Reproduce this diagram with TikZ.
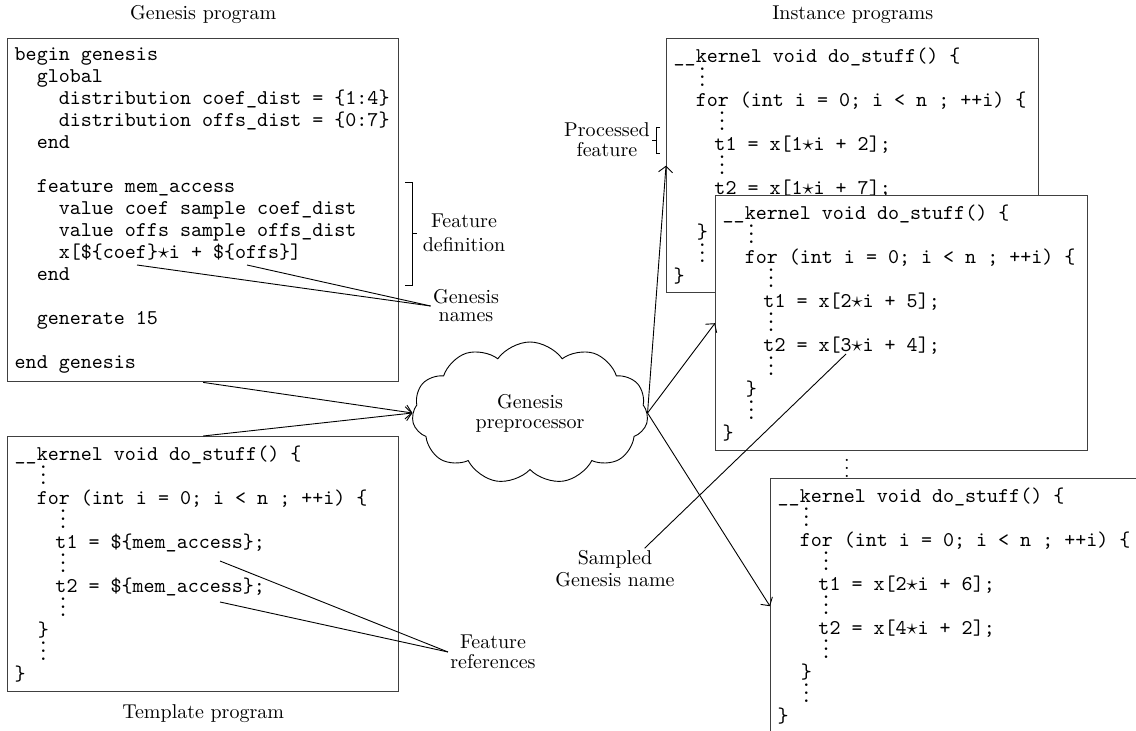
\documentclass[tikz,border=0pt]{standalone}
\usepackage{amsmath}
\usepackage{amssymb}
\usetikzlibrary{positioning,shapes.symbols,arrows.meta}

\newcommand{\codefont}{\fontsize{10.5}{11}\selectfont\ttfamily}
\newcommand{\fixsp}{\spaceskip=\fontcharwd\font`x\relax\xspaceskip=\spaceskip}
\newcommand{\ind}[1]{\hspace*{#1\fontcharwd\font`x}}
\newcommand{\vd}[1]{\ind{#1}\smash{\raisebox{-1pt}{$\vdots$}}}
\newcommand{\kernelcode}[2]{%
  \fixsp\_\_kernel void do\_stuff() \{\\
  \vd{2.1}\\
  \ind{2}for (int i = 0; i < n ; ++i) \{\\
  \vd{3.9}\\
  \ind{3.7}t1 = #1;\\
  \vd{3.9}\\
  \ind{3.7}t2 = #2;\\
  \vd{3.9}\\
  \ind{2.1}\}\\
  \vd{2.1}\\
  \}}

\begin{document}
\begin{tikzpicture}[
      x=0.5pt, y=-0.5pt,
      code/.style={
        draw=black!75, line width=0.7pt, fill=white, anchor=north west,
        align=left, inner xsep=3.5pt, inner ysep=0pt, font=\codefont
      },
      lbl/.style={align=center, inner sep=1pt, font=\fontsize{10}{10}\selectfont},
      line width=0.45pt, >={Straight Barb[length=3pt,width=7pt]}
      ]

  \path[use as bounding box, clip] (0,0) rectangle (1136,731);

  % code boxes
  \node[code, text width=188.5pt, minimum height=171.5pt] (genesis) at (7,38) {%
    \fixsp begin genesis\\
    \ind{2}global\\
    \ind{4}distribution coef\_dist = \{1:4\}\\
    \ind{4}distribution offs\_dist = \{0:7\}\\
    \ind{2}end\\
    \mbox{}\\
    \ind{2}feature mem\_access\\
    \ind{4}value coef sample coef\_dist\\
    \ind{4}value offs sample offs\_dist\\
    \ind{4}x[\$\{coef\}$\star$i + \$\{offs\}]\\
    \ind{2}end\\
    \mbox{}\\
    \ind{2}generate 15\\
    \mbox{}\\
    end genesis};
  \node[code, text width=188.5pt, minimum height=127.5pt] (template) at (7,436)
    {\kernelcode{\$\{mem\_access\}}{\$\{mem\_access\}}};
  \node[code, text width=179pt, minimum height=127pt] (inst1) at (666,38)
    {\kernelcode{x[1$\star$i + 2]}{x[1$\star$i + 7]}};
  \node[code, text width=179pt, minimum height=127.5pt] (inst2) at (715,195)
    {\kernelcode{x[2$\star$i + 5]}{x[3$\star$i + 4]}};
  \node[code, text width=179pt, minimum height=127.5pt] (inst3) at (770,478)
    {\kernelcode{x[2$\star$i + 6]}{x[4$\star$i + 2]}};
  \node[inner sep=0pt] (moredots) at (847,462) {$\vdots$};

  % titles
  \node[lbl, above=6pt of genesis] (gtitle) {Genesis program};
  \node[lbl, below=5pt of template] (ttitle) {Template program};
  \node[lbl, above=6pt of inst1] (ititle) {Instance programs};

  \node[cloud, draw, cloud puffs=11, cloud puff arc=110, aspect=1.7,
        minimum width=118pt, minimum height=71pt, inner sep=0pt,
        align=center, font=\fontsize{10}{10}\selectfont] (prep) at (530,413)
        {Genesis\\preprocessor};

  % annotations
  \node[lbl, font=\fontsize{10}{12}\selectfont] (fdef) at (464,233) {Feature\\definition};
  \node[lbl, font=\fontsize{10}{9}\selectfont] (gnames) at (466,306) {Genesis\\names};
  \node[lbl] (frefs) at (493,652) {Feature\\references};
  \node[lbl, font=\fontsize{10}{11}\selectfont] (samp) at (615,569) {Sampled\\Genesis name};
  \node[lbl] (proc) at (607,140) {Processed\\feature};

  \draw (405,182) -- (412,182) -- (412,285) -- (405,285) (412,233) -- (417,233);
  \draw (660,127) -- (656,127) -- (656,153) -- (660,153) (656,140) -- (652,140);

  \coordinate (coefref) at (137,265);
  \coordinate (offsref) at (247,265);
  \coordinate (memref1) at (220,561);
  \coordinate (memref2) at (220,602);
  \coordinate (sampref) at (846,354);

  % Connect the nodes
  \draw (gnames.west) -- (coefref);
  \draw (gnames.west) -- (offsref);
  \draw (frefs.west) -- (memref1);
  \draw (frefs.west) -- (memref2);
  \draw (samp.35) -- (sampref);
  \draw[->] (genesis.south) -- (prep.west);
  \draw[->] (template.north) -- (prep.west);
  \draw[->] (prep.east) -- (inst1.west);
  \draw[->] (prep.east) -- (inst2.west);
  \draw[->] (prep.east) -- (inst3.west);

\end{tikzpicture}
\end{document}
